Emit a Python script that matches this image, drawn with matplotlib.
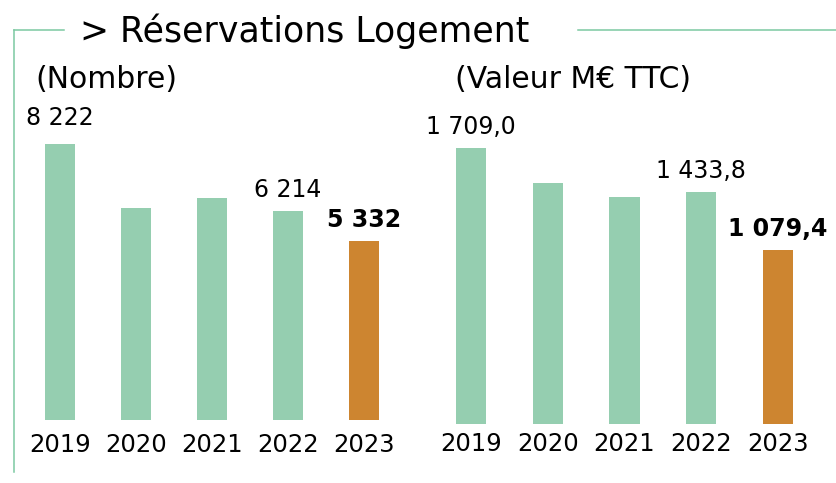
import matplotlib
matplotlib.use("Agg")
import matplotlib.pyplot as plt
from matplotlib.lines import Line2D

# données
annees = ["2019", "2020", "2021", "2022", "2023"]
nombre = [8222, 6310, 6610, 6214, 5332]
nombre_labels = ["8 222", "", "", "6 214", "5 332"]
valeur = [1709.0, 1492.0, 1405.0, 1433.8, 1079.4]
valeur_labels = ["1 709,0", "", "", "1 433,8", "1 079,4"]

vert = "#95CEB0"
orange = "#CD8530"
vert_ligne = "#7CC9A2"

W, H = 837, 483
fig = plt.figure(figsize=(W / 100, H / 100), dpi=100)

def px_axes(x0, y_top, x1, y_bot):
    # rectangle en pixels (origine en haut à gauche) -> axes
    return fig.add_axes([x0 / W, 1 - y_bot / H, (x1 - x0) / W, (y_bot - y_top) / H])

def barres(ax, valeurs, labels, ymax, pad):
    couleurs = [vert] * (len(valeurs) - 1) + [orange]
    x = range(len(valeurs))
    ax.bar(x, valeurs, width=0.395, color=couleurs)
    for i, (v, lab) in enumerate(zip(valeurs, labels)):
        if lab:
            gras = i == len(valeurs) - 1
            dy = 10 if i == 0 and len(lab) < 6 else 6.5
            ax.annotate(lab, (i, v), xytext=(0, dy), textcoords="offset points",
                        ha="center", va="bottom", fontsize=17,
                        fontweight="bold" if gras else "normal")
    ax.set_xlim(-0.5, len(valeurs) - 0.5)
    ax.set_ylim(0, ymax)
    ax.set_xticks(list(x))
    ax.set_xticklabels(annees, fontsize=17.5)
    ax.tick_params(axis="x", length=0, pad=pad)
    ax.set_yticks([])
    for s in ax.spines.values():
        s.set_visible(False)
    ax.patch.set_alpha(0)

# graphique gauche : nombre
ax1 = px_axes(22, 100, 402, 420)
barres(ax1, nombre, nombre_labels, 8222 * 320 / 276, 9)

# graphique droite : valeur
ax2 = px_axes(433, 100, 816, 424)
barres(ax2, valeur, valeur_labels, 1709.0 * 324 / 276, 6)

# cadre vert
fig.add_artist(Line2D([14 / W, 14 / W], [1 - 30 / H, 1 - 472 / H], color=vert_ligne, lw=1.1))
fig.add_artist(Line2D([14 / W, 64 / W], [1 - 30 / H, 1 - 30 / H], color=vert_ligne, lw=1.1))
fig.add_artist(Line2D([578 / W, 1.0], [1 - 30 / H, 1 - 30 / H], color=vert_ligne, lw=1.1))

# titres
fig.text(80 / W, 1 - 31 / H, "> Réservations Logement", fontsize=25, va="center", ha="left")
fig.text(35 / W, 1 - 80 / H, "(Nombre)", fontsize=21.5, va="center", ha="left")
fig.text(455 / W, 1 - 80 / H, "(Valeur M€ TTC)", fontsize=21.5, va="center", ha="left")

fig.savefig("out.png", dpi=100)
